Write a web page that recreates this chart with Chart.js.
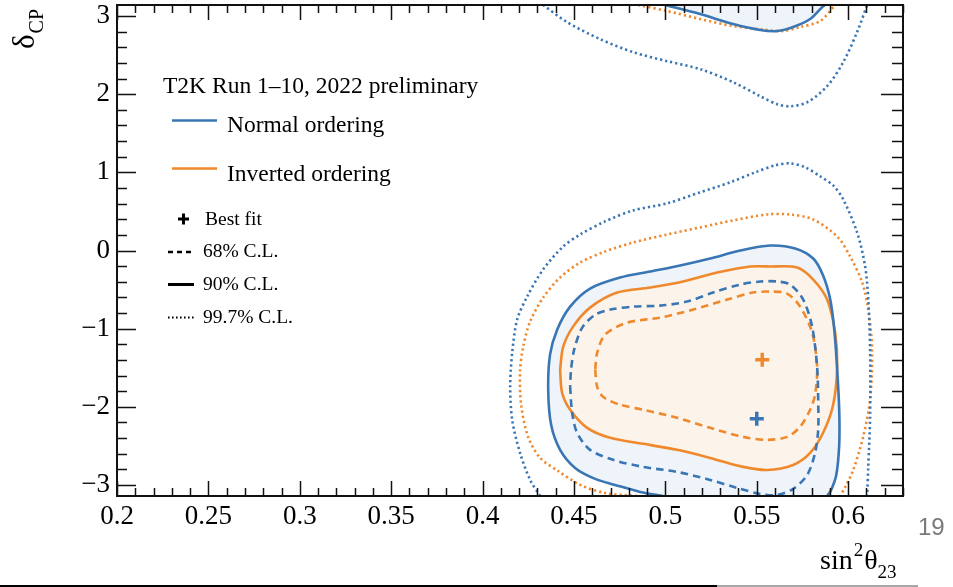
<!DOCTYPE html>
<html><head><meta charset="utf-8">
<script src="https://cdn.jsdelivr.net/npm/chart.js@4.4.1/dist/chart.umd.min.js"></script>
<style>html,body{margin:0;padding:0;background:#fff;overflow:hidden}canvas{display:block}</style>
</head><body>
<canvas id="c" width="953" height="587"></canvas>
<script>
// ---- axis ticks ----
const xTicks = [0.2, 0.25, 0.3, 0.35, 0.4, 0.45, 0.5, 0.55, 0.6];
const xTickLabels = ["0.2", "0.25", "0.3", "0.35", "0.4", "0.45", "0.5", "0.55", "0.6"];
const yTicks = [-3, -2, -1, 0, 1, 2, 3];
const yTickLabels = ["\u22123", "\u22122", "\u22121", "0", "1", "2", "3"];

// ---- contours [sin^2(theta23), deltaCP] ----
// Normal ordering (blue)
const no68 = [[0.4479,-1.744],[0.4490,-2.077],[0.4517,-2.333],[0.4588,-2.551],[0.4714,-2.679],[0.4878,-2.769],[0.5064,-2.833],[0.5245,-2.936],[0.5393,-3.038],[0.5519,-3.115],[0.5612,-3.128],[0.5699,-3.051],[0.5776,-2.872],[0.5819,-2.590],[0.5836,-2.295],[0.5836,-1.910],[0.5830,-1.487],[0.5803,-0.974],[0.5754,-0.628],[0.5683,-0.436],[0.5612,-0.397],[0.5519,-0.397],[0.5409,-0.436],[0.5261,-0.538],[0.5119,-0.654],[0.4971,-0.705],[0.4824,-0.718],[0.4698,-0.756],[0.4616,-0.821],[0.4545,-0.987],[0.4501,-1.269],[0.4484,-1.526]];
const no90Lower = [[0.4988,-3.1416],[0.4862,-3.090],[0.4725,-3.000],[0.4616,-2.923],[0.4506,-2.782],[0.4424,-2.551],[0.4375,-2.231],[0.4359,-1.782],[0.4369,-1.333],[0.4408,-1.013],[0.4479,-0.718],[0.4588,-0.487],[0.4752,-0.346],[0.4917,-0.269],[0.5081,-0.192],[0.5245,-0.103],[0.5409,0.000],[0.5573,0.064],[0.5710,0.026],[0.5809,-0.103],[0.5863,-0.321],[0.5902,-0.628],[0.5924,-1.013],[0.5940,-1.526],[0.5951,-2.038],[0.5951,-2.487],[0.5935,-2.872],[0.5907,-3.064],[0.5885,-3.1416]];
const no90Upper = [[0.4999,3.1416],[0.5190,3.026],[0.5371,2.897],[0.5519,2.821],[0.5612,2.808],[0.5699,2.859],[0.5792,2.962],[0.5858,3.115],[0.5874,3.1416]];
const no997Lower = [[0.4315,-3.1416],[0.4260,-2.936],[0.4205,-2.590],[0.4162,-2.167],[0.4151,-1.744],[0.4162,-1.308],[0.4189,-0.885],[0.4244,-0.590],[0.4331,-0.244],[0.4441,0.051],[0.4534,0.205],[0.4670,0.372],[0.4824,0.513],[0.5010,0.603],[0.5190,0.744],[0.5354,0.872],[0.5491,1.000],[0.5601,1.090],[0.5683,1.115],[0.5765,1.064],[0.5847,0.949],[0.5918,0.833],[0.5973,0.654],[0.6049,0.231],[0.6093,-0.205],[0.6110,-0.628],[0.6120,-1.269],[0.6120,-2.128],[0.6110,-2.769],[0.6104,-3.1416]];
const no997Upper = [[0.4331,3.1416],[0.4462,2.923],[0.4643,2.705],[0.4824,2.538],[0.5010,2.423],[0.5190,2.321],[0.5371,2.154],[0.5519,1.974],[0.5612,1.872],[0.5683,1.846],[0.5776,1.897],[0.5885,2.103],[0.5973,2.410],[0.6049,2.795],[0.6104,3.1416]];
// Inverted ordering (orange)
const io68 = [[0.4616,-1.526],[0.4627,-1.744],[0.4659,-1.872],[0.4752,-1.974],[0.4878,-2.038],[0.5064,-2.141],[0.5245,-2.269],[0.5425,-2.385],[0.5557,-2.423],[0.5666,-2.385],[0.5737,-2.256],[0.5792,-2.038],[0.5819,-1.846],[0.5830,-1.487],[0.5803,-1.051],[0.5737,-0.718],[0.5666,-0.551],[0.5573,-0.526],[0.5480,-0.538],[0.5338,-0.628],[0.5152,-0.756],[0.4971,-0.859],[0.4791,-0.923],[0.4670,-1.077],[0.4627,-1.308]];
const io90 = [[0.4424,-1.526],[0.4435,-1.821],[0.4479,-2.038],[0.4572,-2.269],[0.4698,-2.397],[0.4878,-2.474],[0.5064,-2.551],[0.5245,-2.654],[0.5425,-2.769],[0.5557,-2.808],[0.5699,-2.744],[0.5792,-2.590],[0.5863,-2.333],[0.5918,-1.974],[0.5940,-1.487],[0.5929,-1.051],[0.5885,-0.628],[0.5809,-0.372],[0.5721,-0.218],[0.5573,-0.205],[0.5464,-0.205],[0.5283,-0.282],[0.5097,-0.397],[0.4917,-0.474],[0.4736,-0.538],[0.4588,-0.731],[0.4495,-0.974],[0.4441,-1.231]];
const io997Lower = [[0.4846,-3.1416],[0.4670,-3.103],[0.4534,-2.999],[0.4413,-2.821],[0.4315,-2.654],[0.4249,-2.385],[0.4211,-1.974],[0.4205,-1.551],[0.4222,-1.231],[0.4260,-0.910],[0.4331,-0.603],[0.4424,-0.346],[0.4534,-0.154],[0.4670,-0.013],[0.4824,0.102],[0.5010,0.205],[0.5190,0.295],[0.5371,0.385],[0.5557,0.461],[0.5683,0.461],[0.5809,0.397],[0.5940,0.179],[0.6011,-0.077],[0.6077,-0.410],[0.6110,-0.756],[0.6131,-1.269],[0.6120,-1.910],[0.6082,-2.385],[0.6028,-2.808],[0.5984,-3.026],[0.5956,-3.1416]];
const io997Upper = [[0.4851,3.1416],[0.5010,3.064],[0.5190,2.962],[0.5371,2.872],[0.5557,2.821],[0.5644,2.808],[0.5737,2.859],[0.5847,2.936],[0.5929,3.1416]];
// best fit points
const noBest = [[0.550,-2.154]];
const ioBest = [[0.553,-1.397]];

// ---- styles ----
const BLUE = '#3a76b4', ORANGE = '#f0892c';
const BLUE_FILL = '#eef4fa', ORANGE_FILL = '#fcf4ea';
const SERIF = '"Liberation Serif", "Times New Roman", serif';
const DASH = [7.5, 5], DOT = [2.2, 3];

const pts = a => a.map(p => ({x: p[0], y: p[1]}));
const closed = a => pts(a.concat([a[0]]));

function fillDs(data, color, order) {
  return {data, showLine: true, fill: 'shape', backgroundColor: color, borderWidth: 0,
          borderColor: 'rgba(0,0,0,0)', pointRadius: 0, tension: 0.3, order};
}
function lineDs(data, color, dash, width, order) {
  return {data, showLine: true, fill: false, borderColor: color, borderWidth: width,
          borderDash: dash, borderCapStyle: 'butt', pointRadius: 0, tension: 0.3, order};
}
function bestDs(data, color) {
  return {data: pts(data), showLine: false, pointStyle: 'cross', pointRadius: 7,
          borderColor: color, backgroundColor: color, pointBorderWidth: 3.5, order: 0};
}

const datasets = [
  fillDs(pts(no90Lower), BLUE_FILL, 20),
  fillDs(pts(no90Upper), BLUE_FILL, 20),
  fillDs(closed(io90), ORANGE_FILL, 19),
  lineDs(pts(no997Lower), BLUE, DOT, 2.6, 5),
  lineDs(pts(no997Upper), BLUE, DOT, 2.6, 5),
  lineDs(pts(io997Lower), ORANGE, DOT, 2.6, 5),
  lineDs(pts(io997Upper), ORANGE, DOT, 2.6, 5),
  lineDs(pts(no90Lower), BLUE, [], 2.6, 4),
  lineDs(pts(no90Upper), BLUE, [], 2.6, 4),
  lineDs(closed(io90), ORANGE, [], 2.6, 4),
  lineDs(closed(no68), BLUE, DASH, 2.6, 3),
  lineDs(closed(io68), ORANGE, DASH, 2.6, 3),
  bestDs(noBest, BLUE),
  bestDs(ioBest, ORANGE)
];

// ---- frame with inner ticks (ROOT style) ----
const framePlugin = {
  id: 'frame',
  afterDraw(chart) {
    const {ctx, chartArea: a, scales: {x, y}} = chart;
    ctx.save();
    ctx.strokeStyle = '#111'; ctx.setLineDash([]); ctx.lineWidth = 1.5;
    ctx.beginPath();
    for (let i = 20; i <= 63; i++) {
      const p = Math.round(x.getPixelForValue(i / 100)) + 0.5;
      const L = (i % 5 === 0) ? 15 : 8;
      ctx.moveTo(p, a.bottom); ctx.lineTo(p, a.bottom - L);
      ctx.moveTo(p, a.top); ctx.lineTo(p, a.top + L);
    }
    for (let i = -15; i <= 15; i++) {
      const p = Math.round(y.getPixelForValue(i / 5)) + 0.5;
      const maj = (i % 5 === 0);
      ctx.moveTo(a.left, p); ctx.lineTo(a.left + (maj ? 19 : 10), p);
      ctx.moveTo(a.right, p); ctx.lineTo(a.right - (maj ? 22 : 11), p);
    }
    ctx.stroke();
    ctx.lineWidth = 2;
    ctx.strokeRect(a.left, a.top, a.right - a.left, a.bottom - a.top);
    ctx.restore();
  }
};

// ---- legend, titles, slide decorations ----
const annotPlugin = {
  id: 'annot',
  afterDraw(chart) {
    const ctx = chart.ctx;
    ctx.save();
    ctx.fillStyle = '#000'; ctx.textBaseline = 'alphabetic'; ctx.textAlign = 'left';
    ctx.font = '23.5px ' + SERIF;
    ctx.fillText('T2K Run 1\u201310, 2022 preliminary', 163, 93);
    ctx.fillText('Normal ordering', 227, 132);
    ctx.fillText('Inverted ordering', 227, 181);
    ctx.lineWidth = 2.5; ctx.setLineDash([]);
    ctx.strokeStyle = BLUE; ctx.beginPath(); ctx.moveTo(172, 120.5); ctx.lineTo(217, 120.5); ctx.stroke();
    ctx.strokeStyle = ORANGE; ctx.beginPath(); ctx.moveTo(172, 168.5); ctx.lineTo(217, 168.5); ctx.stroke();
    // best fit marker
    ctx.strokeStyle = '#000'; ctx.lineWidth = 3;
    ctx.beginPath(); ctx.moveTo(178, 219); ctx.lineTo(189, 219); ctx.moveTo(183.5, 213.5); ctx.lineTo(183.5, 224.5); ctx.stroke();
    ctx.font = '19.5px ' + SERIF;
    ctx.fillText('Best fit', 205, 225);
    ctx.fillText('68% C.L.', 203, 257);
    ctx.fillText('90% C.L.', 203, 290);
    ctx.fillText('99.7% C.L.', 203, 323);
    ctx.lineWidth = 2.5; ctx.setLineDash([5, 4]);
    ctx.beginPath(); ctx.moveTo(168, 252); ctx.lineTo(194, 252); ctx.stroke();
    ctx.setLineDash([]); ctx.lineWidth = 3;
    ctx.beginPath(); ctx.moveTo(168, 284.5); ctx.lineTo(194, 284.5); ctx.stroke();
    ctx.setLineDash([1.6, 2.4]); ctx.lineWidth = 1.8;
    ctx.beginPath(); ctx.moveTo(168, 317.5); ctx.lineTo(194, 317.5); ctx.stroke();
    ctx.setLineDash([]);

    // y title (rotated)
    ctx.save();
    ctx.translate(34, 49); ctx.rotate(-Math.PI / 2);
    ctx.font = '31px ' + SERIF; ctx.fillText('\u03b4', 0, 0);
    const dw = ctx.measureText('\u03b4').width;
    ctx.font = '20px ' + SERIF; ctx.fillText('CP', dw + 1, 9);
    ctx.restore();

    // x title
    let xx = 820;
    ctx.font = '28px ' + SERIF; ctx.fillText('sin', xx, 569); xx += ctx.measureText('sin').width;
    ctx.font = '19px ' + SERIF; ctx.fillText('2', xx + 1, 556); xx += ctx.measureText('2').width + 2;
    ctx.font = '28px ' + SERIF; ctx.fillText('\u03b8', xx, 569); xx += ctx.measureText('\u03b8').width;
    ctx.font = '19px ' + SERIF; ctx.fillText('23', xx, 578);

    // slide page number and footer line
    ctx.fillStyle = '#7a7a7a'; ctx.font = '24px "Liberation Sans", Arial, sans-serif';
    ctx.fillText('19', 918, 535);
    ctx.lineWidth = 2;
    ctx.strokeStyle = '#000'; ctx.beginPath(); ctx.moveTo(0, 586); ctx.lineTo(717, 586); ctx.stroke();
    ctx.strokeStyle = '#a8a8a8'; ctx.beginPath(); ctx.moveTo(717, 586); ctx.lineTo(918, 586); ctx.stroke();
    ctx.restore();
  }
};

new Chart(document.getElementById('c'), {
  type: 'scatter',
  data: {datasets},
  options: {
    responsive: false, animation: false, devicePixelRatio: 1, events: [],
    layout: {autoPadding: false, padding: {left: 0, right: 50, top: 5, bottom: 0}},
    plugins: {legend: {display: false}, tooltip: {enabled: false}},
    scales: {
      x: {type: 'linear', min: 0.2, max: 0.63,
          grid: {display: false, drawTicks: false}, border: {display: false},
          afterFit: s => { s.height = 91; s.paddingLeft = 0; s.paddingRight = 0; },
          afterBuildTicks: s => { s.ticks = xTicks.map(v => ({value: v})); },
          ticks: {autoSkip: false, maxRotation: 0, minRotation: 0, padding: 5, color: '#000',
                  font: {family: SERIF, size: 27}, callback: (v, i) => xTickLabels[i]}},
      y: {type: 'linear', min: -Math.PI, max: Math.PI,
          grid: {display: false, drawTicks: false}, border: {display: false},
          afterFit: s => { s.width = 117; s.paddingTop = 0; s.paddingBottom = 0; },
          afterBuildTicks: s => { s.ticks = yTicks.map(v => ({value: v})); },
          ticks: {autoSkip: false, padding: 7, color: '#000',
                  font: {family: SERIF, size: 27}, callback: (v, i) => yTickLabels[i]}}
    }
  },
  plugins: [framePlugin, annotPlugin]
});
</script>
</body></html>
